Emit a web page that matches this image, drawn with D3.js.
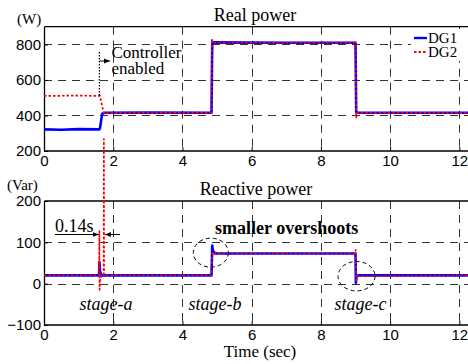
<!DOCTYPE html>
<html>
<head>
<meta charset="utf-8">
<script src="https://cdn.jsdelivr.net/npm/d3@7/dist/d3.min.js"></script>
<style>
  body { margin: 0; background: #fff; }
  svg { display: block; }
  .tick text { font-family: "Liberation Sans", Arial, sans-serif; font-size: 15px; fill: #000; }
  .serif { font-family: "Liberation Serif", "Times New Roman", serif; fill: #000; }
</style>
</head>
<body>
<svg width="468" height="364"></svg>
<script>
// time axis ticks
var timeTicks = [0, 2, 4, 6, 8, 10, 12];
var realTicks = [200, 400, 600, 800];
var reactTicks = [-100, 0, 100, 200];

// real power (W)
var tDG1P = [0, 0.5, 1.0, 1.6, 1.62, 1.68, 1.75, 3, 4.84, 4.86, 4.9, 7, 9.0, 9.02, 9.08, 12.25];
var dg1P  = [322, 320, 323, 322, 330, 410, 415, 416, 415, 805, 812, 810, 810, 420, 415, 415];
var tDG2P = [0, 1.0, 1.62, 1.66, 1.72, 1.76, 1.8, 4.84, 4.85, 4.87, 4.9, 9.0, 9.02, 9.05, 12.25];
var dg2P  = [510, 512, 510, 470, 420, 408, 415, 415, 832, 812, 810, 810, 388, 415, 415];

// reactive power (Var)
var tDG1Q = [0, 1.59, 1.6, 1.62, 1.66, 1.7, 4.84, 4.86, 4.88, 4.93, 5.0, 9.0, 9.01, 9.03, 9.08, 12.25];
var dg1Q  = [20, 20, 52, 30, 18, 20, 20, 92, 80, 74, 73, 73, 2, 18, 20, 20];
var tDG2Q = [0, 1.595, 1.6, 1.605, 1.63, 1.725, 1.73, 1.735, 4.84, 4.86, 4.88, 4.95, 9.0, 9.005, 9.02, 9.06, 12.25];
var dg2Q  = [20, 20, 127, -15, 18, 20, 350, 20, 20, 78, 68, 73, 73, 82, 8, 18, 20];

var svg = d3.select("svg");

var x = d3.scaleLinear().domain([0, 12.25]).range([44, 468]);
var yP = d3.scaleLinear().domain([200, 900]).range([151, 26.7]);
var yQ = d3.scaleLinear().domain([-100, 200]).range([325, 201]);

function zip(t, v) {
  return t.map(function(d, i) { return [d, v[i]]; });
}

function panel(y, ticks, top, bottom, gridVals) {
  var g = svg.append("g");
  // grid
  g.selectAll(".vg").data(timeTicks.slice(1)).enter().append("line")
      .attr("x1", function(d) { return Math.round(x(d)) + 0.5; })
      .attr("x2", function(d) { return Math.round(x(d)) + 0.5; })
      .attr("y1", top).attr("y2", bottom)
      .attr("stroke", "#333").attr("stroke-dasharray", "8,6");
  g.selectAll(".hg").data(gridVals).enter().append("line")
      .attr("x1", 44).attr("x2", 468)
      .attr("y1", function(d) { return Math.round(y(d)) + 0.5; })
      .attr("y2", function(d) { return Math.round(y(d)) + 0.5; })
      .attr("stroke", "#333").attr("stroke-dasharray", "8,6");

  var ax = g.append("g")
      .attr("transform", "translate(0," + bottom + ")")
      .call(d3.axisBottom(x).tickValues(timeTicks).tickSize(-4).tickPadding(4).tickFormat(d3.format("d")));
  ax.select(".domain").remove();
  var ay = g.append("g")
      .attr("transform", "translate(44,0)")
      .call(d3.axisLeft(y).tickValues(ticks).tickSize(-4).tickPadding(3).tickFormat(d3.format("d")));
  ay.select(".domain").remove();
  g.selectAll(".tick line").attr("stroke", "#000");

  g.append("path")
      .attr("d", "M44.5," + top + "V" + bottom + "H468M44.5," + top + "H468")
      .attr("fill", "none").attr("stroke", "#000").attr("stroke-width", 1.3);
  return g;
}

panel(yP, realTicks, 26.7, 151, [400, 600, 800]);
panel(yQ, reactTicks, 201, 325, [0, 100]);

function series(y, t, v, color, width, dash) {
  var line = d3.line()
      .x(function(d) { return x(d[0]); })
      .y(function(d) { return y(d[1]); });
  svg.append("path")
      .datum(zip(t, v))
      .attr("fill", "none")
      .attr("stroke", color)
      .attr("stroke-width", width)
      .attr("stroke-dasharray", dash)
      .attr("stroke-linejoin", "round")
      .attr("d", line);
}

series(yP, tDG1P, dg1P, "#0000ff", 2.6, null);
series(yP, tDG2P, dg2P, "#ff0000", 1.7, "2.5,2");
series(yQ, tDG1Q, dg1Q, "#0000ff", 2.6, null);
series(yQ, tDG2Q, dg2Q, "#ff0000", 1.7, "2.5,2");

// titles and units
svg.append("text").attr("class", "serif").attr("x", 255).attr("y", 20.5)
    .attr("text-anchor", "middle").style("font-size", "18px").text("Real power");
svg.append("text").attr("class", "serif").attr("x", 256).attr("y", 194.5)
    .attr("text-anchor", "middle").style("font-size", "18px").text("Reactive power");
svg.append("text").attr("class", "serif").attr("x", 260).attr("y", 357)
    .attr("text-anchor", "middle").style("font-size", "17px").text("Time (sec)");
svg.append("text").attr("class", "serif").attr("x", 17).attr("y", 24)
    .style("font-size", "15px").text("(W)");
svg.append("text").attr("class", "serif").attr("x", 7).attr("y", 190)
    .style("font-size", "15px").text("(Var)");

// controller enabled marker
svg.append("defs").append("marker")
    .attr("id", "arr").attr("viewBox", "0 0 10 10")
    .attr("refX", 10).attr("refY", 5)
    .attr("markerWidth", 6).attr("markerHeight", 6)
    .attr("orient", "auto-start-reverse")
  .append("path").attr("d", "M0,1L10,5L0,9z").attr("fill", "#000");

svg.append("line")
    .attr("x1", x(1.6)).attr("x2", x(1.6))
    .attr("y1", 52).attr("y2", yP(510))
    .attr("stroke", "#000").attr("stroke-width", 1.2).attr("stroke-dasharray", "1.5,1.5");
svg.append("line")
    .attr("x1", x(1.6)).attr("x2", 110)
    .attr("y1", 61).attr("y2", 61)
    .attr("stroke", "#000").attr("marker-end", "url(#arr)");
svg.append("text").attr("class", "serif").attr("x", 111.5).attr("y", 58)
    .style("font-size", "17px").text("Controller");
svg.append("text").attr("class", "serif").attr("x", 111.5).attr("y", 73.5)
    .style("font-size", "17px").text("enabled");

// 0.14s annotation
svg.append("line")
    .attr("x1", 55).attr("x2", x(1.6) - 0.5)
    .attr("y1", 234.5).attr("y2", 234.5)
    .attr("stroke", "#000").attr("marker-end", "url(#arr)");
svg.append("line")
    .attr("x1", 120).attr("x2", x(1.73) + 1)
    .attr("y1", 234.5).attr("y2", 234.5)
    .attr("stroke", "#000").attr("marker-end", "url(#arr)");
svg.append("text").attr("class", "serif").attr("x", 55).attr("y", 232)
    .style("font-size", "18px").text("0.14s");

svg.append("text").attr("class", "serif").attr("x", 215).attr("y", 233.7)
    .style("font-size", "18px").style("font-weight", "bold").text("smaller overshoots");

// dashed circles around transients
svg.append("ellipse")
    .attr("cx", x(4.82)).attr("cy", yQ(75)).attr("rx", 17.5).attr("ry", 14.5)
    .attr("fill", "none").attr("stroke", "#000").attr("stroke-dasharray", "4,3");
svg.append("ellipse")
    .attr("cx", x(9.03)).attr("cy", yQ(18)).attr("rx", 18.5).attr("ry", 14.7)
    .attr("fill", "none").attr("stroke", "#000").attr("stroke-dasharray", "4,3");

// stage labels
var stageNames = ["stage-a", "stage-b", "stage-c"];
var stageX = [106, 215, 360.5];
stageNames.forEach(function(s, i) {
  svg.append("text").attr("class", "serif")
      .attr("x", stageX[i]).attr("y", 310)
      .attr("text-anchor", "middle")
      .style("font-size", "18px").style("font-style", "italic")
      .text(s);
});

// legend
var leg = svg.append("g");
leg.append("rect").attr("x", 411).attr("y", 29).attr("width", 57).attr("height", 32).attr("fill", "#fff");
leg.append("line").attr("x1", 414).attr("x2", 427).attr("y1", 38).attr("y2", 38)
    .attr("stroke", "#0000ff").attr("stroke-width", 2.4);
leg.append("line").attr("x1", 414).attr("x2", 427).attr("y1", 52).attr("y2", 52)
    .attr("stroke", "#ff0000").attr("stroke-width", 2).attr("stroke-dasharray", "2.5,2");
leg.append("text").attr("class", "serif").attr("x", 428).attr("y", 43)
    .style("font-size", "15px").text("DG1");
leg.append("text").attr("class", "serif").attr("x", 428).attr("y", 57)
    .style("font-size", "15px").text("DG2");
</script>
</body>
</html>
